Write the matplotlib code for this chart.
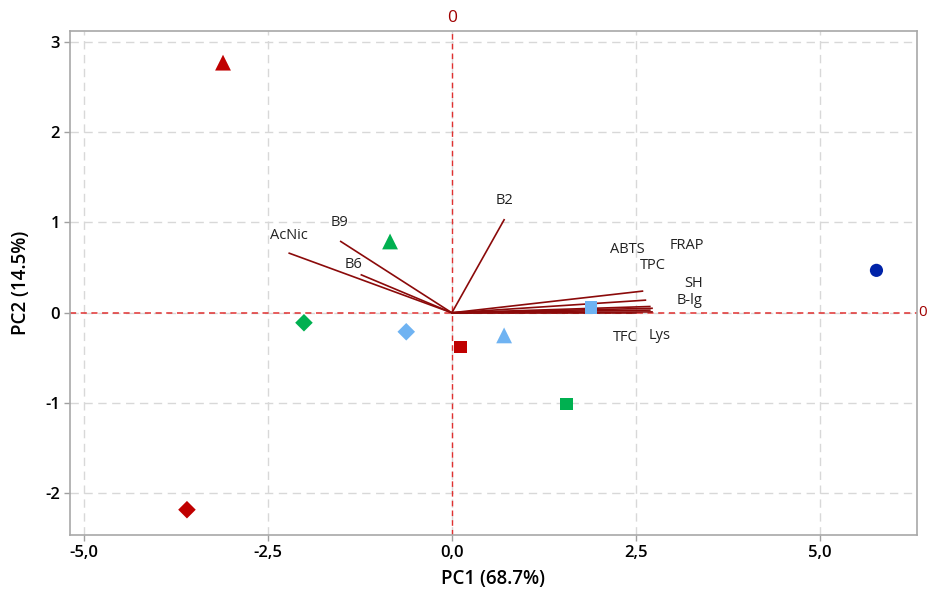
import numpy as np
import matplotlib
matplotlib.use("Agg")
import matplotlib.pyplot as plt

plt.rcParams['font.family'] = ['Open Sans', 'DejaVu Sans']

# scores
score_x = [-3.11, -0.84, 0.71, -2.01, -0.62, -3.60, 0.12, 1.56, 1.89, 5.77]
score_y = [2.77, 0.79, -0.25, -0.11, -0.21, -2.18, -0.38, -1.01, 0.06, 0.47]
score_marker = ['^', '^', '^', 'D', 'D', 'D', 's', 's', 's', 'o']
score_color = ['#C00000', '#00B050', '#6FB3F2', '#00B050', '#6FB3F2', '#C00000',
               '#C00000', '#00B050', '#6FB3F2', '#0023A8']

# loadings
var_names = ['AcNic', 'B9', 'B6', 'B2', 'ABTS', 'TPC', 'FRAP', 'SH', 'B-lg', 'TFC', 'Lys']
load_x = [-2.21, -1.51, -1.23, 0.71, 2.59, 2.63, 2.69, 2.72, 2.69, 2.50, 2.72]
load_y = [0.66, 0.79, 0.42, 1.03, 0.24, 0.14, 0.07, 0.05, 0.03, 0.00, 0.01]
label_x = [-2.21, -1.53, -1.34, 0.71, 2.39, 2.73, 3.19, 3.28, 3.23, 2.36, 2.82]
label_y = [0.86, 1.00, 0.54, 1.24, 0.70, 0.52, 0.74, 0.33, 0.14, -0.27, -0.25]

xticks = [-5.0, -2.5, 0.0, 2.5, 5.0]
yticks = [-2, -1, 0, 1, 2, 3]

fig = plt.figure(figsize=(9.29, 5.92), dpi=100)
ax = fig.add_axes([0.0753, 0.0963, 0.9117, 0.8513])

ax.set_xlim(-5.19, 6.32)
ax.set_ylim(-2.46, 3.12)

ax.grid(True, color='#D8D8D8', linestyle=(0, (6, 4)), linewidth=1)
ax.set_axisbelow(True)
ax.axhline(0, color='#E03030', linestyle=(0, (4, 3)), linewidth=1.1, zorder=1)
ax.axvline(0, color='#E03030', linestyle=(0, (4, 3)), linewidth=1.0, zorder=1)

for i in range(len(var_names)):
    ax.plot([0, load_x[i]], [0, load_y[i]], color='#8B0A0A', linewidth=1.2, zorder=2)
    ax.text(label_x[i], label_y[i], var_names[i], ha='center', va='center',
            fontsize=10.5, color='#222222', zorder=4)

sizes = {'^': 130, 'D': 80, 's': 80, 'o': 90}
for i in range(len(score_x)):
    ax.scatter(score_x[i], score_y[i], marker=score_marker[i], s=sizes[score_marker[i]],
               color=score_color[i], edgecolors='none', zorder=3)

ax.set_xticks(xticks)
ax.set_xticklabels([f"{t:.1f}".replace('.', ',') for t in xticks])
ax.set_yticks(yticks)
ax.set_yticklabels([str(t) for t in yticks])
ax.tick_params(axis='both', labelsize=12, color='#A0A0A0', length=4, width=1, pad=3)
for lab in ax.get_xticklabels() + ax.get_yticklabels():
    lab.set_fontweight('semibold')

for sp in ax.spines.values():
    sp.set_color('#A8A8A8')
    sp.set_linewidth(1.2)

ax.set_xlabel('PC1 (68.7%)', fontsize=13.5, fontweight='semibold', labelpad=6)
ax.set_ylabel('PC2 (14.5%)', fontsize=13.5, fontweight='semibold', labelpad=10)

ax.text(0, 1.01, '0', transform=ax.get_xaxis_transform(), ha='center', va='bottom',
        fontsize=12.5, color='#A00000', clip_on=False)
ax.text(1.002, 0, '0', transform=ax.get_yaxis_transform(), ha='left', va='center',
        fontsize=11, color='#A00000', clip_on=False)

fig.savefig('out.png', dpi=100)
